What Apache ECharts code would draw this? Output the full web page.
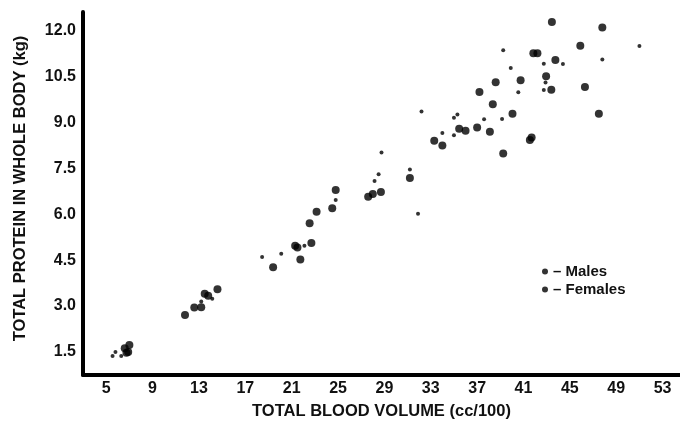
<!DOCTYPE html>
<html>
<head>
<meta charset="utf-8">
<script src="https://cdn.jsdelivr.net/npm/echarts@6/dist/echarts.min.js"></script>
<style>
html,body{margin:0;padding:0;background:#fff;}
#chart{width:680px;height:425px;}
</style>
</head>
<body>
<div id="chart"></div>
<script>
// Data (x: total blood volume cc/100, y: total protein kg)
var males = [
  [6.6,1.62],[7.0,1.73],[6.9,1.5],[6.75,1.48],
  [11.8,2.71],[12.6,2.95],[13.2,2.96],[13.5,3.4],[13.8,3.34],[14.6,3.55],
  [19.4,4.27],[21.3,4.97],[21.5,4.91],[21.75,4.52],[22.7,5.06],[22.55,5.7],[23.15,6.08],[24.5,6.19],[24.8,6.79],
  [27.6,6.57],[28.0,6.66],[28.7,6.72],[31.2,7.18],
  [33.3,8.4],[34.0,8.24],[35.45,8.79],[36.0,8.72],[37.0,8.83],[38.1,8.69],[39.25,7.98],[41.55,8.42],[41.7,8.5],
  [40.05,9.28],[38.35,9.59],[37.2,9.99],[38.6,10.31],[40.75,10.37],[42.95,10.5],[43.4,10.06],[46.3,10.15],[47.5,9.28],
  [41.85,11.25],[42.2,11.25],[43.75,11.03],[45.9,11.5],[43.45,12.27],[47.8,12.09]
];
var females = [
  [5.55,1.37],[5.8,1.5],[6.3,1.37],
  [13.2,3.15],[14.15,3.24],
  [18.45,4.6],[20.1,4.71],[22.1,4.97],[24.8,6.46],
  [28.15,7.08],[28.5,7.3],[28.75,8.01],[31.2,7.46],[31.9,6.01],
  [32.2,9.35],[34.0,8.65],[35.0,8.58],[35.0,9.15],[35.3,9.25],[37.6,9.1],[39.15,9.11],
  [40.55,9.98],[42.75,10.05],[42.9,10.3],[39.9,10.77],[42.75,10.91],[44.4,10.9],[39.25,11.35],[47.8,11.05],[51.0,11.49]
];
var xTicks = [5,9,13,17,21,25,29,33,37,41,45,49,53];
var yTicks = [1.5,3.0,4.5,6.0,7.5,9.0,10.5,12.0];
var seriesNames = ['Males','Females'];
var xTitle = 'TOTAL BLOOD VOLUME (cc/100)';
var yTitle = 'TOTAL PROTEIN IN WHOLE BODY (kg)';

var FONT = '"Liberation Sans", Arial, Helvetica, sans-serif';
var chart = echarts.init(document.getElementById('chart'), null, {renderer:'canvas'});
chart.setOption({
  animation: false,
  backgroundColor: '#ffffff',
  grid: {left: 83, right: 0, top: 12, bottom: 50, containLabel: false, outerBoundsMode: 'none'},
  xAxis: {
    type: 'value', min: 3, max: 54.5,
    name: xTitle, nameLocation: 'middle', nameGap: 28,
    nameTextStyle: {fontFamily: FONT, fontWeight: 'bold', fontSize: 16.5, color: '#111'},
    axisLine: {show: true, onZero: false, lineStyle: {color: '#000', width: 4}},
    axisTick: {show: false},
    splitLine: {show: false},
    axisLabel: {customValues: xTicks, margin: 6, fontFamily: FONT, fontWeight: 'bold', fontSize: 16, color: '#111'}
  },
  yAxis: {
    type: 'value', min: 0.75, max: 12.6,
    name: yTitle, nameLocation: 'middle', nameGap: 54, nameRotate: 90,
    nameTextStyle: {fontFamily: FONT, fontWeight: 'bold', fontSize: 16.5, color: '#111', padding: [0, 0, 0, 10]},
    axisLine: {show: true, onZero: false, lineStyle: {color: '#000', width: 4}},
    axisTick: {show: false},
    splitLine: {show: false},
    axisLabel: {customValues: yTicks, margin: 7, fontFamily: FONT, fontWeight: 'bold', fontSize: 16, color: '#111',
      formatter: function(v){ return v.toFixed(1); }}
  },
  legend: {
    orient: 'vertical', left: 537, top: 259, itemGap: 3,
    itemWidth: 6, itemHeight: 6, icon: 'circle',
    data: seriesNames,
    formatter: function(n){ return '\u2013 ' + n; },
    textStyle: {fontFamily: FONT, fontWeight: 'bold', fontSize: 15, color: '#111'}
  },
  series: [
    {name: seriesNames[0], type: 'scatter', data: males, symbol: 'circle', symbolSize: 8,
     itemStyle: {color: '#000'}},
    {name: seriesNames[1], type: 'scatter', data: females, symbol: 'circle', symbolSize: 4,
     itemStyle: {color: '#000'}}
  ]
});
</script>
</body>
</html>
